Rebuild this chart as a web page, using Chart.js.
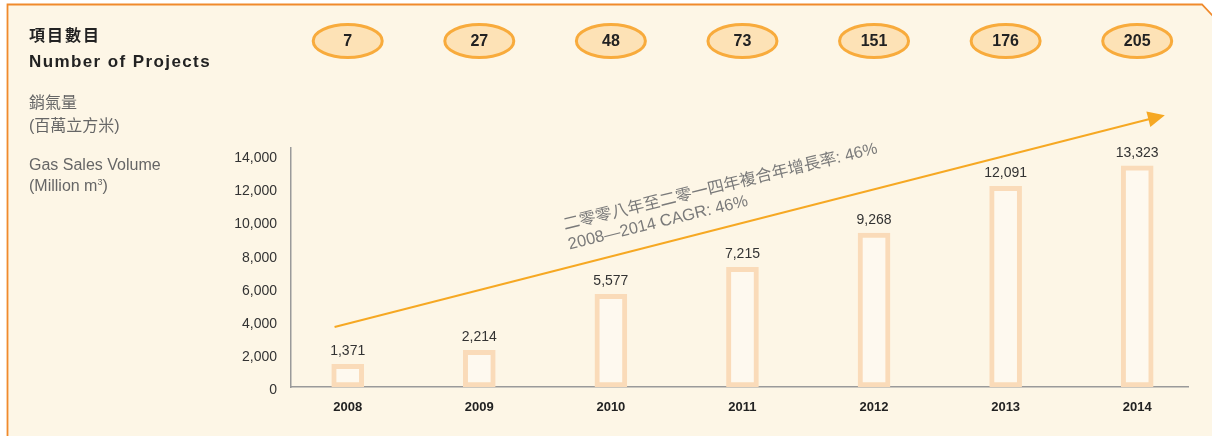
<!DOCTYPE html>
<html>
<head>
<meta charset="utf-8">
<script src="https://cdn.jsdelivr.net/npm/chart.js@4.4.1/dist/chart.umd.min.js"></script>
<style>
  body { margin: 0; background: #fff; font-family: "Liberation Sans", "Noto Sans CJK TC", sans-serif; }
  #wrap { position: relative; width: 1212px; height: 436px; }
  #chart { position: absolute; left: 0; top: 0; }
  .lbl { position: absolute; left: 29px; white-space: nowrap; line-height: 1; }
  .head { color: #222; font-weight: bold; }
  .sub { color: #666; font-size: 16px; }
</style>
</head>
<body>
<div id="wrap">
  <canvas id="chart" width="1212" height="436"></canvas>
  <div class="lbl head" style="top:28px;font-size:16px;letter-spacing:2px;">項目數目</div>
  <div class="lbl head" style="top:53px;font-size:17px;letter-spacing:1.4px;">Number of Projects</div>
  <div class="lbl sub" style="top:95px;">銷氣量</div>
  <div class="lbl sub" style="top:118px;">(百萬立方米)</div>
  <div class="lbl sub" style="top:157px;">Gas Sales Volume</div>
  <div class="lbl sub" style="top:178px;">(Million m<sup style="font-size:9px;vertical-align:6px;">3</sup>)</div>
</div>
<script>
// --- data ---
const years = [2008, 2009, 2010, 2011, 2012, 2013, 2014];
const gasVolume = [1371, 2214, 5577, 7215, 9268, 12091, 13323];
const projects = [7, 27, 48, 73, 151, 176, 205];
const yTicks = [0, 2000, 4000, 6000, 8000, 10000, 12000, 14000];
const cagrLines = ['二零零八年至二零一四年複合年增長率: 46%', '2008—2014 CAGR: 46%'];

// trend arrow, in data units (year, volume)
const arrowFrom = { x: 2007.9, y: 3610 };
const arrowTo = { x: 2014.21, y: 16380 };
const cagrAt = { x: 2009.65, y: 9460 };

const CREAM = '#fdf6e6';
const ORANGE = '#f6a823';
const FONT = '"Liberation Sans", "Noto Sans CJK TC", sans-serif';

// background frame with the cut corner
const framePlugin = {
    id: 'frame',
    beforeDraw(chart) {
        const { ctx, width, height } = chart;
        ctx.save();
        ctx.fillStyle = '#fff';
        ctx.fillRect(0, 0, width, height);
        ctx.beginPath();
        ctx.moveTo(7.5, height + 2);
        ctx.lineTo(7.5, 4.5);
        ctx.lineTo(1202, 4.5);
        ctx.lineTo(width + 1, 16);
        ctx.lineTo(width + 1, height + 2);
        ctx.closePath();
        ctx.fillStyle = CREAM;
        ctx.fill();
        ctx.strokeStyle = '#f08a2c';
        ctx.lineWidth = 1.8;
        ctx.stroke();
        ctx.restore();
    }
};

// values above bars, project bubbles, trend arrow and CAGR note
const extrasPlugin = {
    id: 'extras',
    afterDatasetsDraw(chart) {
        const { ctx } = chart;
        const xs = chart.scales.x, ys = chart.scales.y;
        const bars = chart.getDatasetMeta(0).data;
        ctx.save();

        // value labels
        ctx.font = '14px ' + FONT;
        ctx.fillStyle = '#333';
        ctx.textAlign = 'center';
        ctx.textBaseline = 'middle';
        bars.forEach((bar, i) => {
            ctx.fillText(gasVolume[i].toLocaleString('en-US'), bar.x, bar.y - 13);
        });

        // project bubbles
        years.forEach((yr, i) => {
            const cx = xs.getPixelForValue(yr);
            ctx.beginPath();
            ctx.ellipse(cx, 41, 34.5, 16.5, 0, 0, Math.PI * 2);
            ctx.fillStyle = '#fde2b6';
            ctx.fill();
            ctx.lineWidth = 3;
            ctx.strokeStyle = '#f8ab3c';
            ctx.stroke();
            ctx.fillStyle = '#222';
            ctx.font = 'bold 16px ' + FONT;
            ctx.fillText(String(projects[i]), cx, 42);
        });

        // arrow
        const x0 = xs.getPixelForValue(arrowFrom.x), y0 = ys.getPixelForValue(arrowFrom.y);
        const x1 = xs.getPixelForValue(arrowTo.x), y1 = ys.getPixelForValue(arrowTo.y);
        const ang = Math.atan2(y1 - y0, x1 - x0);
        const head = 17;
        ctx.strokeStyle = ORANGE;
        ctx.lineWidth = 2;
        ctx.beginPath();
        ctx.moveTo(x0, y0);
        ctx.lineTo(x1 - Math.cos(ang) * head * 0.8, y1 - Math.sin(ang) * head * 0.8);
        ctx.stroke();
        ctx.fillStyle = ORANGE;
        ctx.beginPath();
        ctx.moveTo(x1, y1);
        ctx.lineTo(x1 - Math.cos(ang) * head + Math.sin(ang) * 8, y1 - Math.sin(ang) * head - Math.cos(ang) * 8);
        ctx.lineTo(x1 - Math.cos(ang) * head - Math.sin(ang) * 8, y1 - Math.sin(ang) * head + Math.cos(ang) * 8);
        ctx.closePath();
        ctx.fill();

        // CAGR note along the arrow
        ctx.translate(xs.getPixelForValue(cagrAt.x), ys.getPixelForValue(cagrAt.y));
        ctx.rotate(-13.8 * Math.PI / 180);
        ctx.font = '16.5px ' + FONT;
        ctx.fillStyle = '#7a7a7a';
        ctx.textAlign = 'left';
        ctx.textBaseline = 'alphabetic';
        cagrLines.forEach((t, i) => ctx.fillText(t, 0, i * 20));
        ctx.restore();
    }
};

new Chart(document.getElementById('chart'), {
    type: 'bar',
    data: {
        datasets: [{
            data: years.map((yr, i) => ({ x: yr, y: gasVolume[i] })),
            backgroundColor: '#fef9ef',
            borderColor: '#fadbb9',
            borderWidth: 5,
            borderSkipped: false,
            barThickness: 32
        }]
    },
    options: {
        responsive: false,
        animation: false,
        devicePixelRatio: 1,
        layout: { padding: { top: 148, right: 24, bottom: 0, left: 0 } },
        plugins: { legend: { display: false }, tooltip: { enabled: false } },
        scales: {
            x: {
                type: 'linear',
                offset: false,
                min: 2007.569,
                max: 2014.386,
                afterFit(scale) { scale.height = 49; },
                grid: { display: false, drawTicks: false, offset: false },
                border: { display: true, color: '#9a9a9a', width: 1.5 },
                ticks: {
                    stepSize: 1,
                    includeBounds: false,
                    maxRotation: 0,
                    autoSkip: false,
                    padding: 13,
                    color: '#222',
                    font: { family: FONT, size: 13, weight: 'bold' },
                    callback: v => Number.isInteger(v) ? String(v) : ''
                }
            },
            y: {
                min: 0,
                max: 14400,
                afterFit(scale) { scale.width = 291; },
                afterBuildTicks(scale) { scale.ticks = yTicks.map(v => ({ value: v })); },
                grid: { display: false, drawTicks: false },
                border: { display: true, color: '#9a9a9a', width: 1.5 },
                ticks: {
                    padding: 14,
                    labelOffset: 3.5,
                    color: '#333',
                    font: { family: FONT, size: 14 },
                    callback: v => v.toLocaleString('en-US')
                }
            }
        }
    },
    plugins: [framePlugin, extrasPlugin]
});
</script>
</body>
</html>
